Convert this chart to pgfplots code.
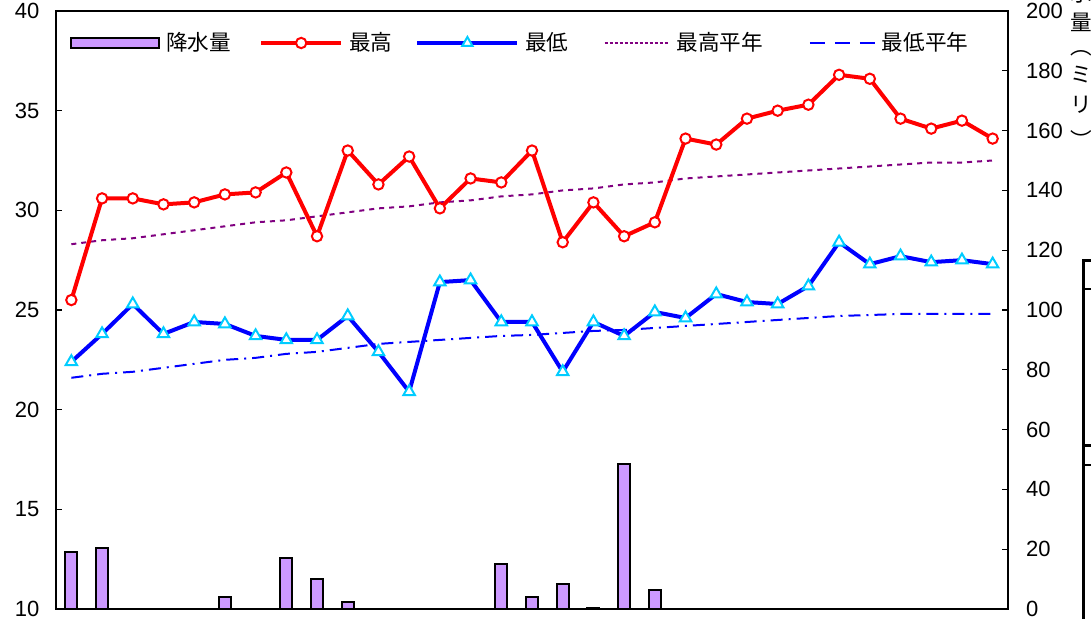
\documentclass[border=0pt]{standalone}
\usepackage{fontspec}
\setmainfont{Liberation Sans}
\newfontfamily\jp{Noto Sans CJK JP}
\usepackage{pgfplots}
\pgfplotsset{compat=1.18}
\usepackage{pgfplotstable}

\definecolor{barfill}{RGB}{204,153,255}
\definecolor{maxred}{RGB}{255,0,0}
\definecolor{minblue}{RGB}{0,0,255}
\definecolor{tricyan}{RGB}{0,204,255}
\definecolor{nrmpurple}{RGB}{128,0,128}

% daily temperatures (left axis) and normals
\pgfplotstableread{
day  max   min   maxn  minn
1    25.5  22.4  28.3  21.6
2    30.6  23.8  28.5  21.8
3    30.6  25.3  28.6  21.9
4    30.3  23.8  28.8  22.1
5    30.4  24.4  29.0  22.3
6    30.8  24.3  29.2  22.5
7    30.9  23.7  29.4  22.6
8    31.9  23.5  29.5  22.8
9    28.7  23.5  29.7  22.9
10   33.0  24.7  29.9  23.1
11   31.3  22.9  30.1  23.3
12   32.7  20.9  30.2  23.4
13   30.1  26.4  30.4  23.5
14   31.6  26.5  30.5  23.6
15   31.4  24.4  30.7  23.7
16   33.0  24.4  30.8  23.75
17   28.4  21.9  31.0  23.85
18   30.4  24.4  31.1  23.95
19   28.7  23.7  31.3  24.0
20   29.4  24.9  31.4  24.1
21   33.6  24.6  31.6  24.2
22   33.3  25.8  31.7  24.3
23   34.6  25.4  31.8  24.4
24   35.0  25.3  31.9  24.5
25   35.3  26.2  32.0  24.6
26   36.8  28.4  32.1  24.7
27   36.6  27.3  32.2  24.75
28   34.6  27.7  32.3  24.8
29   34.1  27.4  32.4  24.8
30   34.5  27.5  32.4  24.8
31   33.6  27.3  32.5  24.8
}\temptable

% precipitation (right axis), days with rain only
\pgfplotstableread{
day rain
1   19.0
2   20.5
6   4.0
8   17.0
9   10.0
10  2.5
15  15.0
16  4.0
17  8.5
18  0.5
19  48.5
20  6.5
}\raintable

\pgfplotsset{
  barleg/.style={legend image code/.code={
    \draw[fill=barfill,draw=black,line width=1pt] (0pt,-2.5pt) rectangle (44pt,2.5pt);}},
  maxleg/.style={legend image code/.code={
    \draw[maxred,line width=2pt,mark=*,mark size=2.6pt,
      mark options={fill=white,draw=maxred,line width=1pt},mark repeat=2,mark phase=2]
      plot coordinates {(0pt,0pt) (20pt,0pt) (40pt,0pt)};}},
  minleg/.style={legend image code/.code={
    \draw[minblue,line width=2pt,mark=triangle*,mark size=3pt,
      mark options={fill=white,draw=tricyan,line width=1pt},mark repeat=2,mark phase=2]
      plot coordinates {(0pt,0pt) (25pt,0pt) (50pt,0pt)};}},
  maxnleg/.style={legend image code/.code={
    \draw[nrmpurple,line width=1pt,dash pattern=on 1.5pt off 1pt] (0pt,0pt) -- (32.5pt,0pt);}},
  minnleg/.style={legend image code/.code={
    \draw[minblue,line width=1pt,dash pattern=on 7.5pt off 5pt] (0pt,0pt) -- (32.5pt,0pt);}},
  frame/.style={
    scale only axis, width=476pt, height=299pt,
    at={(28pt,4.5pt)}, anchor=south west,
    xmin=0.5, xmax=31.5,
    axis line style={line width=1.1pt,-},
    tick align=inside, major tick length=3pt,
    tick style={black,line width=0.6pt},
    ticklabel style={font=\fontsize{11}{13}\selectfont},
    /pgf/number format/assume math mode=true,
  },
}

\begin{document}
\begin{tikzpicture}
\path[use as bounding box] (0,0) rectangle (545.5pt,309pt);

% right axis: precipitation bars
\begin{axis}[frame,
  ymin=0, ymax=200,
  axis x line=none, axis y line*=right,
  ytick={0,20,...,200}, ytick pos=right, tick align=inside,
  yticklabel style={xshift=5.5pt},
  ybar, bar width=6pt,
]
\addplot[fill=barfill, draw=black, line width=1pt] table[x=day,y=rain] {\raintable};
\end{axis}

% left axis: temperatures
\begin{axis}[frame,
  ymin=10, ymax=40,
  xtick=\empty, ytick={10,15,...,40}, ytick pos=left,
  yticklabel style={xshift=-4.8pt},
  legend columns=5,
  legend style={draw=none, fill=none, inner sep=0pt,
    at={(axis description cs:0.0147,0.9465)}, anchor=west,
    font=\jp\fontsize{10.8}{13}\selectfont,
    nodes={inner sep=0pt},
    /tikz/every odd column/.append style={column sep=3pt},
    /tikz/every even column/.append style={column sep=14pt}},
]
\addlegendimage{barleg}\addlegendentry{降水量}
\addlegendimage{maxleg}\addlegendentry{最高\hbox{\kern-2.5pt}}
\addlegendimage{minleg}\addlegendentry{最低\hbox{\kern3.5pt}}
\addlegendimage{maxnleg}\addlegendentry{最高平年\hbox{\kern9pt}}
\addlegendimage{minnleg}\addlegendentry{最低平年}

\addplot[nrmpurple, line width=1pt, dash pattern=on 2.5pt off 2.5pt, forget plot]
  table[x=day,y=maxn] {\temptable};
\addplot[minblue, line width=1pt, dash pattern=on 6pt off 3pt on 1pt off 3pt, forget plot]
  table[x=day,y=minn] {\temptable};
\addplot[maxred, line width=2pt, mark=*, mark size=2.6pt,
  mark options={fill=white, draw=maxred, line width=1pt, solid}, forget plot]
  table[x=day,y=max] {\temptable};
\addplot[minblue, line width=2pt, mark=triangle*, mark size=3.3pt,
  mark options={fill=white, draw=tricyan, line width=1pt, solid}, forget plot]
  table[x=day,y=min] {\temptable};
\end{axis}

% right axis title, set vertically (top cut off by the page edge)
\begin{scope}[every node/.style={font=\jp\fontsize{10.8}{13}\selectfont, anchor=center, inner sep=0pt}]
\node at (540.5pt,327pt) {降};
\node at (540.5pt,312.5pt) {水};
\node at (540.5pt,298pt) {量};
\node at (540.5pt,282.3pt) {︵};
\node at (540.5pt,271.5pt) {ミ};
\node at (540.5pt,256.8pt) {リ};
\node at (540.5pt,239.5pt) {︶};
\end{scope}

% edge of a neighbouring table, cut off at the right
\draw[line width=1.5pt] (541.5pt,-5pt) -- (541.5pt,179pt) -- (560pt,179pt);
\draw[line width=1.2pt] (541.5pt,164.5pt) -- (560pt,164.5pt);
\draw[line width=1.5pt] (541.5pt,86.5pt) -- (560pt,86.5pt);
\draw[line width=1.2pt] (541.5pt,76.5pt) -- (560pt,76.5pt);
\end{tikzpicture}
\end{document}
